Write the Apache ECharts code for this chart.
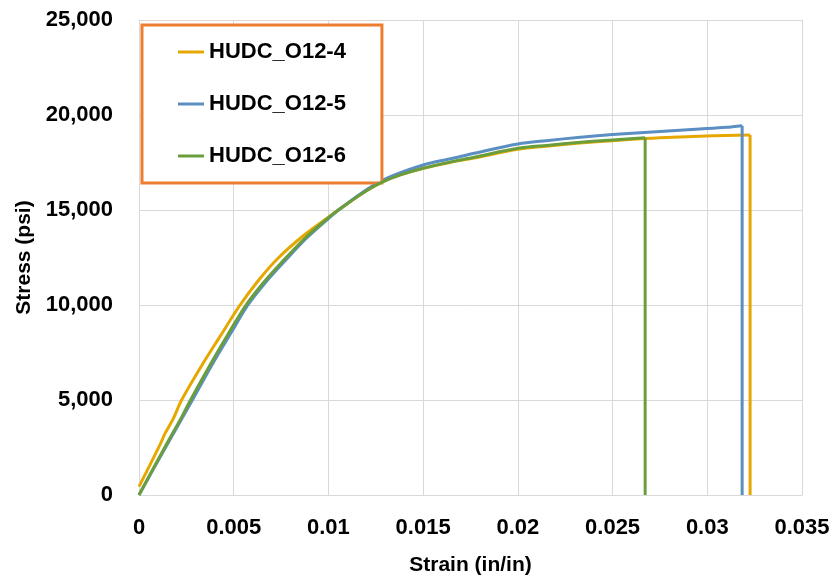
<!DOCTYPE html>
<html>
<head>
<meta charset="utf-8">
<script src="https://cdn.jsdelivr.net/npm/echarts@6/dist/echarts.min.js"></script>
<style>
  html, body { margin: 0; padding: 0; background: #fff; }
  #chart { width: 839px; height: 584px; }
</style>
</head>
<body>
<div id="chart"></div>
<script>
// Specimen names
const seriesNames = ['HUDC_O12-4', 'HUDC_O12-5', 'HUDC_O12-6'];

// Stress-strain readings: [strain (in/in), stress (psi)].
// The last point of each list is the fracture drop back to zero stress.
const specimen4 = [
  [0, 437], [0.00111, 2647], [0.00137, 3230], [0.00181, 4020], [0.00225, 5000],
  [0.0034, 6958], [0.00428, 8347], [0.00528, 9921], [0.00628, 11263], [0.00735, 12474],
  [0.00866, 13632], [0.00998, 14605], [0.0106, 15050], [0.0117, 15820], [0.0128, 16450],
  [0.0138, 16850], [0.015, 17200], [0.0165, 17520], [0.0177, 17740], [0.02, 18200],
  [0.0215, 18360], [0.0233, 18520], [0.025, 18650], [0.0267, 18760], [0.0275, 18800],
  [0.0296, 18880], [0.031, 18925], [0.03226, 18947], [0.03226, 0]
];
const specimen5 = [
  [0, 0], [0.00137, 2450], [0.00282, 5000], [0.00385, 6842], [0.0049, 8600],
  [0.00575, 10000], [0.0067, 11210], [0.00765, 12263], [0.00885, 13526], [0.01, 14550],
  [0.0106, 15050], [0.0117, 15860], [0.0128, 16530], [0.0138, 16960], [0.015, 17370],
  [0.0165, 17710], [0.0177, 17990], [0.02, 18474], [0.0215, 18650], [0.0233, 18830],
  [0.025, 18970], [0.0275, 19130], [0.0296, 19260], [0.031, 19350], [0.03184, 19437],
  [0.03184, 0]
];
const specimen6 = [
  [0, 0], [0.00137, 2526], [0.00225, 4100], [0.00272, 5000], [0.00375, 6842],
  [0.0048, 8632], [0.00565, 10000], [0.0066, 11210], [0.00755, 12263], [0.00877, 13526],
  [0.00998, 14579], [0.0106, 15050], [0.0117, 15820], [0.0128, 16450], [0.0138, 16850],
  [0.015, 17200], [0.0165, 17540], [0.0177, 17780], [0.02, 18247], [0.0215, 18400],
  [0.0233, 18560], [0.025, 18690], [0.02672, 18805], [0.02672, 0]
];

// Axis ranges
const strainMax = 0.035, strainStep = 0.005;
const stressMax = 25000, stressStep = 5000;

const colors = ['#E6A800', '#5B8EC2', '#6A9E3C'];
const font = 'Liberation Sans, Arial, sans-serif';

// Each specimen: a smoothed loading curve plus a straight fracture drop
const series = [];
[specimen4, specimen5, specimen6].forEach((d, i) => {
  const common = {
    name: seriesNames[i],
    type: 'line',
    showSymbol: false,
    symbol: 'none',
    lineStyle: { width: 3, color: colors[i] },
    itemStyle: { color: colors[i] },
    z: 2 + i
  };
  series.push(Object.assign({}, common, { data: d.slice(0, -1), smooth: 0.3 }));
  series.push(Object.assign({}, common, { data: d.slice(-2) }));
});

const chart = echarts.init(document.getElementById('chart'));
chart.setOption({
  animation: false,
  backgroundColor: '#fff',
  color: colors,
  grid: { left: 139, right: 37, top: 20, bottom: 89 },
  legend: {
    orient: 'vertical',
    left: 142, top: 25,
    padding: [16, 36, 16, 36],
    itemGap: 30,
    itemWidth: 26, itemHeight: 3,
    icon: 'rect',
    borderColor: '#ED7D31', borderWidth: 3,
    backgroundColor: '#fff',
    textStyle: { fontFamily: font, fontWeight: 'bold', fontSize: 22, color: '#000', lineHeight: 22 },
    data: seriesNames
  },
  xAxis: {
    type: 'value', min: 0, max: strainMax, interval: strainStep,
    name: 'Strain (in/in)', nameLocation: 'middle', nameGap: 60,
    nameTextStyle: { fontFamily: font, fontWeight: 'bold', fontSize: 21, color: '#000' },
    axisLine: { show: true, lineStyle: { color: '#D9D9D9', width: 1 } },
    axisTick: { show: false },
    splitLine: { show: true, lineStyle: { color: '#D9D9D9', width: 1 } },
    axisLabel: { fontFamily: font, fontWeight: 'bold', fontSize: 22, color: '#000', margin: 22,
      formatter: v => String(parseFloat(v.toFixed(4))) }
  },
  yAxis: {
    type: 'value', min: 0, max: stressMax, interval: stressStep,
    name: 'Stress (psi)', nameLocation: 'middle', nameGap: 104,
    nameTextStyle: { fontFamily: font, fontWeight: 'bold', fontSize: 21, color: '#000' },
    axisLine: { show: true, lineStyle: { color: '#D9D9D9', width: 1 } },
    axisTick: { show: false },
    splitLine: { show: true, lineStyle: { color: '#D9D9D9', width: 1 } },
    axisLabel: { fontFamily: font, fontWeight: 'bold', fontSize: 22, color: '#000', margin: 26,
      formatter: v => v.toLocaleString('en-US') }
  },
  series: series
});
</script>
</body>
</html>
